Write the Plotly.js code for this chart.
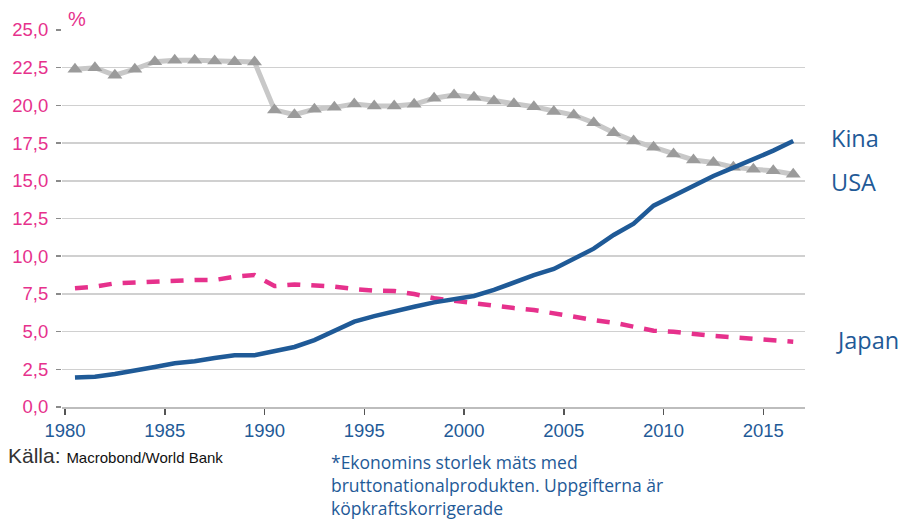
<!DOCTYPE html>
<html>
<head>
<meta charset="utf-8">
<script src="https://cdn.plot.ly/plotly-3.0.1.min.js"></script>
<style>html,body{margin:0;padding:0;background:#fff;}#chart{width:900px;height:520px;}</style>
</head>
<body>
<div id="chart"></div>
<script>
const years = [1980,1981,1982,1983,1984,1985,1986,1987,1988,1989,1990,1991,1992,1993,1994,1995,1996,1997,1998,1999,2000,2001,2002,2003,2004,2005,2006,2007,2008,2009,2010,2011,2012,2013,2014,2015,2016];
const usa = [22.4,22.5,22.0,22.4,22.9,23.0,23.0,22.95,22.9,22.88,19.7,19.38,19.74,19.87,20.09,19.96,19.96,20.07,20.47,20.69,20.54,20.29,20.11,19.91,19.6,19.36,18.85,18.19,17.64,17.22,16.78,16.38,16.22,15.9,15.76,15.67,15.43];
const kina = [1.95,2.01,2.19,2.39,2.65,2.9,3.03,3.25,3.43,3.43,3.67,3.98,4.44,5.04,5.66,6.03,6.37,6.65,6.94,7.16,7.36,7.76,8.24,8.75,9.15,9.79,10.5,11.41,12.15,13.35,14.01,14.7,15.32,15.87,16.42,17.0,17.64];
const japan = [7.87,7.98,8.2,8.27,8.31,8.42,8.42,8.42,8.64,8.75,8.02,8.13,8.09,7.98,7.82,7.71,7.69,7.49,7.21,7.03,6.87,6.72,6.56,6.43,6.21,5.95,5.77,5.59,5.33,5.06,4.99,4.84,4.71,4.62,4.51,4.42,4.33];
const xTicks = [1980,1985,1990,1995,2000,2005,2010,2015];
const yTicks = [0,2.5,5,7.5,10,12.5,15,17.5,20,22.5,25];
const seriesNames = ["Kina","USA","Japan"];

const xs = years.map(y => y + 0.5);
const pink = "#E6318C";
const blue = "#1F5A97";

const traces = [
  {x: xs, y: usa, type: "scatter", mode: "lines+markers", name: seriesNames[1],
   line: {color: "#C8C8C8", width: 5},
   marker: {symbol: "triangle-up", size: 13, color: "#9B9B9B"}},
  {x: xs, y: japan, type: "scatter", mode: "lines", name: seriesNames[2],
   line: {color: pink, width: 4.5, dash: "13px,11px"}},
  {x: xs, y: kina, type: "scatter", mode: "lines", name: seriesNames[0],
   line: {color: blue, width: 4.5}}
];

const L = 62, R = 805, T = 30, B = 407;
const px = v => (v - L) / (R - L);
const py = v => (B - v) / (B - T);

const annFont = {family: "Open Sans, Noto Sans, sans-serif", size: 23.5, color: blue};
const noteFont = {family: "Open Sans, Noto Sans, sans-serif", size: 17.5, color: blue};

const layout = {
  width: 900, height: 520,
  margin: {l: L, r: 900 - R, t: T, b: 520 - B},
  paper_bgcolor: "#fff", plot_bgcolor: "#fff",
  showlegend: false,
  separators: ", ",
  xaxis: {
    range: [1979.85, 2017.09], tickvals: xTicks, ticktext: xTicks.map(String),
    showgrid: false, zeroline: false, showline: true, linecolor: "#BDBDBD", linewidth: 1.5,
    ticks: "outside", ticklen: 6, tickwidth: 1.5, tickcolor: "#555",
    tickfont: {family: "Liberation Sans, Arial, sans-serif", size: 18.5, color: blue}
  },
  yaxis: {
    range: [0, 25], tickvals: yTicks, ticktext: yTicks.map(v => v.toFixed(1).replace(".", ",")),
    showgrid: true, gridcolor: "#D0D0D0", gridwidth: 1.5, zeroline: false, showline: false,
    ticks: "outside", ticklen: 5, tickwidth: 1.5, tickcolor: "#8A8A8A",
    tickfont: {family: "Liberation Sans, Arial, sans-serif", size: 18.5, color: pink},
    ticklabelstandoff: 4
  },
  annotations: [
    {text: "%", xref: "paper", yref: "paper", x: px(66), y: py(19), xanchor: "left", yanchor: "middle", showarrow: false,
     font: {family: "Liberation Sans, Arial, sans-serif", size: 20, color: pink}},
    {text: seriesNames[0], xref: "paper", yref: "paper", x: px(829), y: py(138), xanchor: "left", yanchor: "middle", showarrow: false, font: annFont},
    {text: seriesNames[1], xref: "paper", yref: "paper", x: px(829), y: py(182), xanchor: "left", yanchor: "middle", showarrow: false, font: annFont},
    {text: seriesNames[2], xref: "paper", yref: "paper", x: px(834), y: py(340), xanchor: "left", yanchor: "middle", showarrow: false, font: annFont},
    {text: "<span style='font-size:21px;color:#333'>Källa:</span> <span style='font-size:15px;color:#111'>Macrobond/World Bank</span>", xref: "paper", yref: "paper",
     x: px(6), y: py(455), xanchor: "left", yanchor: "middle", showarrow: false,
     font: {family: "Liberation Sans, Arial, sans-serif", size: 21, color: "#222"}},
    {text: "*Ekonomins storlek mäts med<br>bruttonationalprodukten. Uppgifterna är<br>köpkraftskorrigerade", xref: "paper", yref: "paper",
     x: px(329), y: py(485), xanchor: "left", yanchor: "middle", align: "left", showarrow: false, font: noteFont}
  ]
};

Plotly.newPlot("chart", traces, layout, {displayModeBar: false, staticPlot: true});
</script>
</body>
</html>
